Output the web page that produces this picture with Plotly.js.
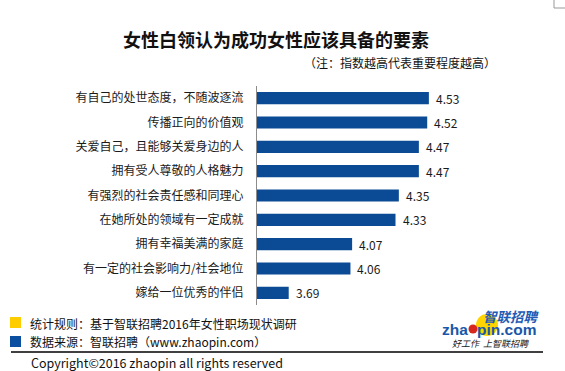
<!DOCTYPE html>
<html>
<head>
<meta charset="utf-8">
<script src="https://cdn.plot.ly/plotly-3.0.1.min.js"></script>
<style>
html,body{margin:0;padding:0;background:#fff;}
#chart{width:565px;height:371px;}
</style>
</head>
<body>
<div id="chart"></div>
<script>
// ---- data ----
var categories = [
  "有自己的处世态度，不随波逐流",
  "传播正向的价值观",
  "关爱自己，且能够关爱身边的人",
  "拥有受人尊敬的人格魅力",
  "有强烈的社会责任感和同理心",
  "在她所处的领域有一定成就",
  "拥有幸福美满的家庭",
  "有一定的社会影响力/社会地位",
  "嫁给一位优秀的伴侣"
];
var scores = [4.53, 4.52, 4.47, 4.47, 4.35, 4.33, 4.07, 4.06, 3.69];
var valueLabels = ["4.53", "4.52", "4.47", "4.47", "4.35", "4.33", "4.07", "4.06", "3.69"];

var titleText = "女性白领认为成功女性应该具备的要素";
var noteText = "（注：指数越高代表重要程度越高）";
var footRule = "统计规则：基于智联招聘2016年女性职场现状调研";
var footSource = "数据来源：智联招聘（www.zhaopin.com）";
var copyrightText = "Copyright©2016 zhaopin all rights reserved";

// ---- layout geometry (pixels) ----
var W = 565, H = 371;
var M = {l: 257, r: 41, t: 86, b: 66};
var pw = W - M.l - M.r, ph = H - M.t - M.b;
function px(x) { return (x - M.l) / pw; }
function py(y) { return (H - M.b - y) / ph; }

var CJK = "'Noto Sans CJK SC', 'Noto Sans', sans-serif";
var barBlue = "#0b4a94";

var trace = {
  type: "bar",
  orientation: "h",
  x: scores,
  y: categories,
  marker: {color: barBlue},
  width: 0.5,
  hoverinfo: "none"
};

var shapes = [
  // legend squares
  {type: "rect", xref: "paper", yref: "paper", x0: px(10), x1: px(21), y0: py(317), y1: py(328), fillcolor: "#ffcc00", line: {width: 0}},
  {type: "rect", xref: "paper", yref: "paper", x0: px(10), x1: px(21), y0: py(336), y1: py(347), fillcolor: "#0b4fa0", line: {width: 0}},
  // footer rule
  {type: "line", xref: "paper", yref: "paper", x0: px(11), x1: px(543), y0: py(352), y1: py(352), line: {color: "#000", width: 1.5}},
  // logo yellow disc and red ball
  {type: "circle", xref: "paper", yref: "paper", x0: px(476), x1: px(498), y0: py(314), y1: py(336), fillcolor: "#ffd400", line: {width: 0}, layer: "below"},
  {type: "circle", xref: "paper", yref: "paper", x0: px(468.5), x1: px(477.5), y0: py(324.5), y1: py(333.5), fillcolor: "#d7261e", line: {width: 0}},
  // corner crop mark
  {type: "line", xref: "paper", yref: "paper", x0: px(554), x1: px(554), y0: py(0), y1: py(8), line: {color: "#999", width: 1}},
  {type: "line", xref: "paper", yref: "paper", x0: px(554), x1: px(565), y0: py(8), y1: py(8), line: {color: "#999", width: 1}}
];

var annotations = [
  {text: "<b>" + titleText + "</b>", xref: "paper", yref: "paper", x: px(275.5), y: py(39), xanchor: "center", yanchor: "middle", showarrow: false, font: {family: CJK, size: 18, color: "#111"}},
  {text: noteText, xref: "paper", yref: "paper", x: px(302), y: py(62), xanchor: "left", yanchor: "middle", showarrow: false, font: {family: CJK, size: 12, color: "#111"}},
  {text: footRule, xref: "paper", yref: "paper", x: px(28), y: py(323), xanchor: "left", yanchor: "middle", showarrow: false, font: {family: CJK, size: 12, color: "#111"}},
  {text: footSource, xref: "paper", yref: "paper", x: px(28), y: py(341), xanchor: "left", yanchor: "middle", showarrow: false, font: {family: CJK, size: 12, color: "#111"}},
  {text: copyrightText, xref: "paper", yref: "paper", x: px(30), y: py(362.5), xanchor: "left", yanchor: "middle", showarrow: false, borderpad: 0, font: {family: CJK, size: 12.5, color: "#111"}},
  // logo text
  {text: "<b><i>智联招聘</i></b>", xref: "paper", yref: "paper", x: px(511), y: py(315.5), xanchor: "center", yanchor: "middle", showarrow: false, borderpad: 0, font: {family: CJK, size: 13.5, color: "#1f5cb5"}},
  {text: "<b>zha</b>", xref: "paper", yref: "paper", x: px(469), y: py(329), xanchor: "right", yanchor: "middle", showarrow: false, borderpad: 0, font: {family: "'Liberation Sans', Arial, sans-serif", size: 15.5, color: "#1a57a8"}},
  {text: "<b>pin.com</b>", xref: "paper", yref: "paper", x: px(476), y: py(329), xanchor: "left", yanchor: "middle", showarrow: false, borderpad: 0, font: {family: "'Liberation Sans', Arial, sans-serif", size: 15.5, color: "#1a57a8"}},
  {text: "<i>好工作  上智联招聘</i>", xref: "paper", yref: "paper", x: px(490), y: py(343), xanchor: "center", yanchor: "middle", showarrow: false, borderpad: 0, font: {family: CJK, size: 9, color: "#222"}}
];

// value labels placed on the data axes
for (var i = 0; i < scores.length; i++) {
  annotations.push({
    text: valueLabels[i], x: scores[i], y: categories[i], xref: "x", yref: "y",
    xanchor: "left", yanchor: "middle", xshift: 6, showarrow: false, borderpad: 0,
    font: {family: CJK, size: 12, color: "#1a1a1a"}
  });
}

var layout = {
  width: W, height: H,
  margin: M,
  paper_bgcolor: "#fff",
  plot_bgcolor: "#fff",
  showlegend: false,
  xaxis: {range: [3.5, 5.1], visible: false, showgrid: false, zeroline: false, fixedrange: true},
  yaxis: {
    autorange: "reversed",
    showline: true, linecolor: "#8c8c8c", linewidth: 1,
    ticks: "", ticklabelstandoff: 10,
    tickfont: {family: CJK, size: 12, color: "#1a1a1a"},
    showgrid: false, zeroline: false, fixedrange: true
  },
  bargap: 0.5,
  shapes: shapes,
  annotations: annotations
};

Plotly.newPlot("chart", [trace], layout, {displayModeBar: false, staticPlot: true});
</script>
</body>
</html>
